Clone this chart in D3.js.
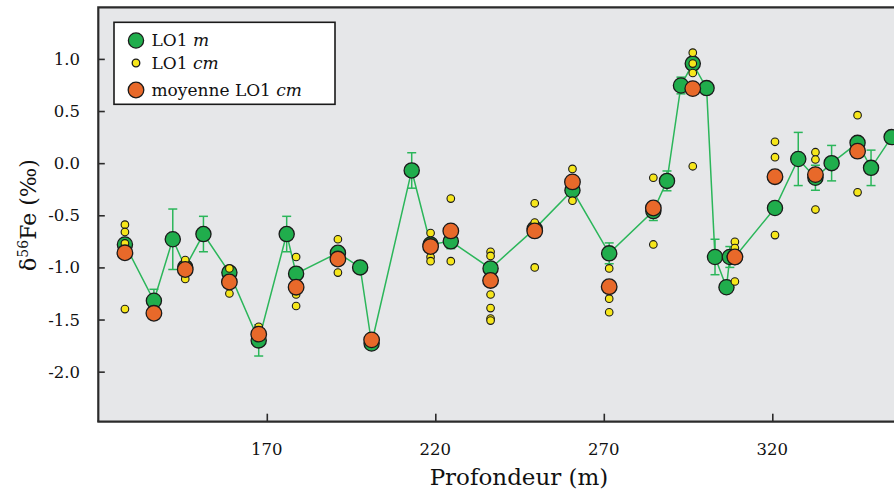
<!DOCTYPE html>
<html><head><meta charset="utf-8">
<script src="https://cdn.jsdelivr.net/npm/d3@7"></script>
<style>
html,body{margin:0;padding:0;background:#fff;overflow:hidden;}
svg{display:block;}
text{font-family:"DejaVu Serif",serif;fill:#111;}
</style></head><body>
<svg id="chart" width="894" height="493"></svg>
<script>
// LO1 m (green, with error bars)
const depthM = [127.9,136.5,142.1,145.8,151.2,158.9,167.6,175.9,178.7,191.1,197.7,201.1,213.0,218.6,224.6,236.4,249.5,260.7,271.6,284.7,288.75,292.9,296.4,300.5,303.0,306.4,307.4,308.9,320.8,327.7,332.8,337.6,345.3,349.3,355.4];
const valueM = [-0.78,-1.32,-0.73,-1.00,-0.68,-1.05,-1.70,-0.68,-1.06,-0.86,-1.00,-1.73,-0.07,-0.78,-0.75,-1.01,-0.63,-0.26,-0.865,-0.46,-0.17,0.745,0.955,0.72,-0.90,-1.19,-0.90,-0.90,-0.43,0.04,-0.14,0.00,0.195,-0.045,0.25];
const errorM = [0,0.11,0.29,0,0.17,0,0.15,0.17,0,0,0,0,0.17,0,0.07,0,0,0,0.10,0.09,0.095,0.08,0,0,0.17,0,0.10,0,0,0.255,0.12,0.17,0,0.17,0];

// LO1 cm (yellow, individual)
const depthCm = [127.9,127.9,127.9,127.9,145.8,145.8,158.9,158.9,167.6,178.7,178.7,178.7,191.1,191.1,218.6,218.6,218.6,224.6,224.6,236.4,236.4,236.4,236.4,236.4,236.4,249.5,249.5,249.5,260.7,260.7,271.6,271.6,271.6,284.7,284.7,296.4,296.4,296.4,296.4,308.9,308.9,308.9,320.8,320.8,320.8,332.8,332.8,332.8,345.3,345.3];
const valueCm = [-0.59,-0.66,-0.77,-1.40,-0.93,-1.11,-1.01,-1.25,-1.57,-0.90,-1.26,-1.37,-0.73,-1.05,-0.67,-0.90,-0.94,-0.34,-0.94,-0.85,-0.89,-1.26,-1.39,-1.49,-1.51,-0.385,-0.57,-1.00,-0.055,-0.36,-1.01,-1.30,-1.43,-0.14,-0.78,1.06,0.955,0.865,-0.03,-0.755,-0.815,-1.135,0.205,0.057,-0.69,0.105,0.035,-0.445,0.46,-0.28];

// moyenne LO1 cm (orange)
const depthMean = [127.9,136.5,145.8,158.9,167.6,178.7,191.1,201.1,218.6,224.6,236.4,249.5,260.7,271.6,284.7,296.4,308.9,320.8,332.8,345.3];
const valueMean = [-0.86,-1.44,-1.02,-1.14,-1.64,-1.19,-0.92,-1.695,-0.80,-0.65,-1.125,-0.65,-0.18,-1.185,-0.43,0.715,-0.90,-0.13,-0.11,0.115];

const xTicks = [170,220,270,320];
const yTicks = [1.0,0.5,0.0,-0.5,-1.0,-1.5,-2.0];
const yTickLabels = ["1.0","0.5","0.0","-0.5","-1.0","-1.5","-2.0"];
const legendLabels = [["LO1 ","m"],["LO1 ","cm"],["moyenne LO1 ","cm"]];

const cGreen = "#20ad4c", cYellow = "#f6e61b", cOrange = "#e8692a", cLine = "#2bb65a", cBg = "#e6e7e9";

const svg = d3.select("#chart");
const L = 98.3, T = 7.3, B = 421.7;
const x = d3.scaleLinear().domain([120,360]).range([L, L + 240*3.37]);
const y = d3.scaleLinear().domain([-2.48,1.495]).range([B, T]);

svg.append("rect").attr("x",L).attr("y",T).attr("width",900-L).attr("height",B-T).attr("fill",cBg);

// line
const mPts = depthM.map((d,i)=>({d, v:valueM[i], e:errorM[i]}));
svg.append("path").datum(mPts)
  .attr("fill","none").attr("stroke",cLine).attr("stroke-width",1.5)
  .attr("d", d3.line().x(p=>x(p.d)).y(p=>y(p.v)));

// error bars
const eb = svg.append("g").attr("stroke",cLine).attr("stroke-width",1.5).attr("fill","none");
mPts.filter(p=>p.e>0).forEach(p=>{
  const cx = x(p.d), y1 = y(p.v+p.e), y2 = y(p.v-p.e);
  eb.append("line").attr("x1",cx).attr("x2",cx).attr("y1",y1).attr("y2",y2);
  eb.append("line").attr("x1",cx-4.5).attr("x2",cx+4.5).attr("y1",y1).attr("y2",y1);
  eb.append("line").attr("x1",cx-4.5).attr("x2",cx+4.5).attr("y1",y2).attr("y2",y2);
});

// green points
svg.append("g").selectAll("circle").data(mPts).join("circle")
  .attr("cx",p=>x(p.d)).attr("cy",p=>y(p.v)).attr("r",7.6)
  .attr("fill",cGreen).attr("stroke","#1a1a1a").attr("stroke-width",1.3);

// yellow points
svg.append("g").selectAll("circle").data(depthCm.map((d,i)=>({d,v:valueCm[i]}))).join("circle")
  .attr("cx",p=>x(p.d)).attr("cy",p=>y(p.v)).attr("r",3.8)
  .attr("fill",cYellow).attr("stroke","#1a1a1a").attr("stroke-width",1.1);

// orange points
svg.append("g").selectAll("circle").data(depthMean.map((d,i)=>({d,v:valueMean[i]}))).join("circle")
  .attr("cx",p=>x(p.d)).attr("cy",p=>y(p.v)).attr("r",7.8)
  .attr("fill",cOrange).attr("stroke","#1a1a1a").attr("stroke-width",1.3);

// axes frame
const fr = svg.append("g").attr("stroke","#2b2b2b").attr("stroke-width",2.2).attr("fill","none");
fr.append("path").attr("d",`M${L},${B} L${L},${T} L900,${T}`);
fr.append("path").attr("d",`M${L-1},${B} L900,${B}`);

// ticks
const yAxis = d3.axisRight(y).tickValues(yTicks).tickSize(6.5).tickFormat("");
const ga = svg.append("g").attr("transform",`translate(${L},0)`).call(yAxis);
ga.select(".domain").remove();
ga.selectAll("line").attr("stroke","#2b2b2b").attr("stroke-width",1.6);
const xAxis = d3.axisTop(x).tickValues(xTicks).tickSize(8).tickFormat("");
const gx = svg.append("g").attr("transform",`translate(0,${B})`).call(xAxis);
gx.select(".domain").remove();
gx.selectAll("line").attr("stroke","#2b2b2b").attr("stroke-width",1.6);

// tick labels
svg.append("g").selectAll("text").data(yTicks).join("text")
  .attr("x",80).attr("y",v=>y(v)+6).attr("text-anchor","end")
  .style("font-size","16.5px").text((v,i)=>yTickLabels[i]);
svg.append("g").selectAll("text").data(xTicks).join("text")
  .attr("x",v=>x(v)).attr("y",455).attr("text-anchor","middle")
  .style("font-size","16.5px").text(v=>v);

// axis titles
svg.append("text").attr("x",519).attr("y",485).attr("text-anchor","middle")
  .style("font-size","23px").text("Profondeur (m)");
const yt = svg.append("text").attr("transform","translate(36,215) rotate(-90)").attr("text-anchor","middle")
  .style("font-size","22px");
yt.append("tspan").text("δ");
yt.append("tspan").attr("dy",-8).style("font-size","14px").text("56");
yt.append("tspan").attr("dy",8).text("Fe (‰)");

// legend
const lg = svg.append("g");
lg.append("rect").attr("x",114).attr("y",22.3).attr("width",221).attr("height",82)
  .attr("fill","#fff").attr("stroke","#1a1a1a").attr("stroke-width",1.6);
const legY = [40.5, 63, 90];
const legFill = [cGreen, cYellow, cOrange];
const legR = [7.6, 3.8, 7.8];
legendLabels.forEach((lab,i)=>{
  lg.append("circle").attr("cx",136).attr("cy",legY[i]).attr("r",legR[i])
    .attr("fill",legFill[i]).attr("stroke","#1a1a1a").attr("stroke-width",1.3);
  const t = lg.append("text").attr("x",151.5).attr("y",legY[i]+5.5).style("font-size","17px");
  t.append("tspan").text(lab[0]);
  t.append("tspan").style("font-style","italic").text(lab[1]);
});
</script>
</body></html>
